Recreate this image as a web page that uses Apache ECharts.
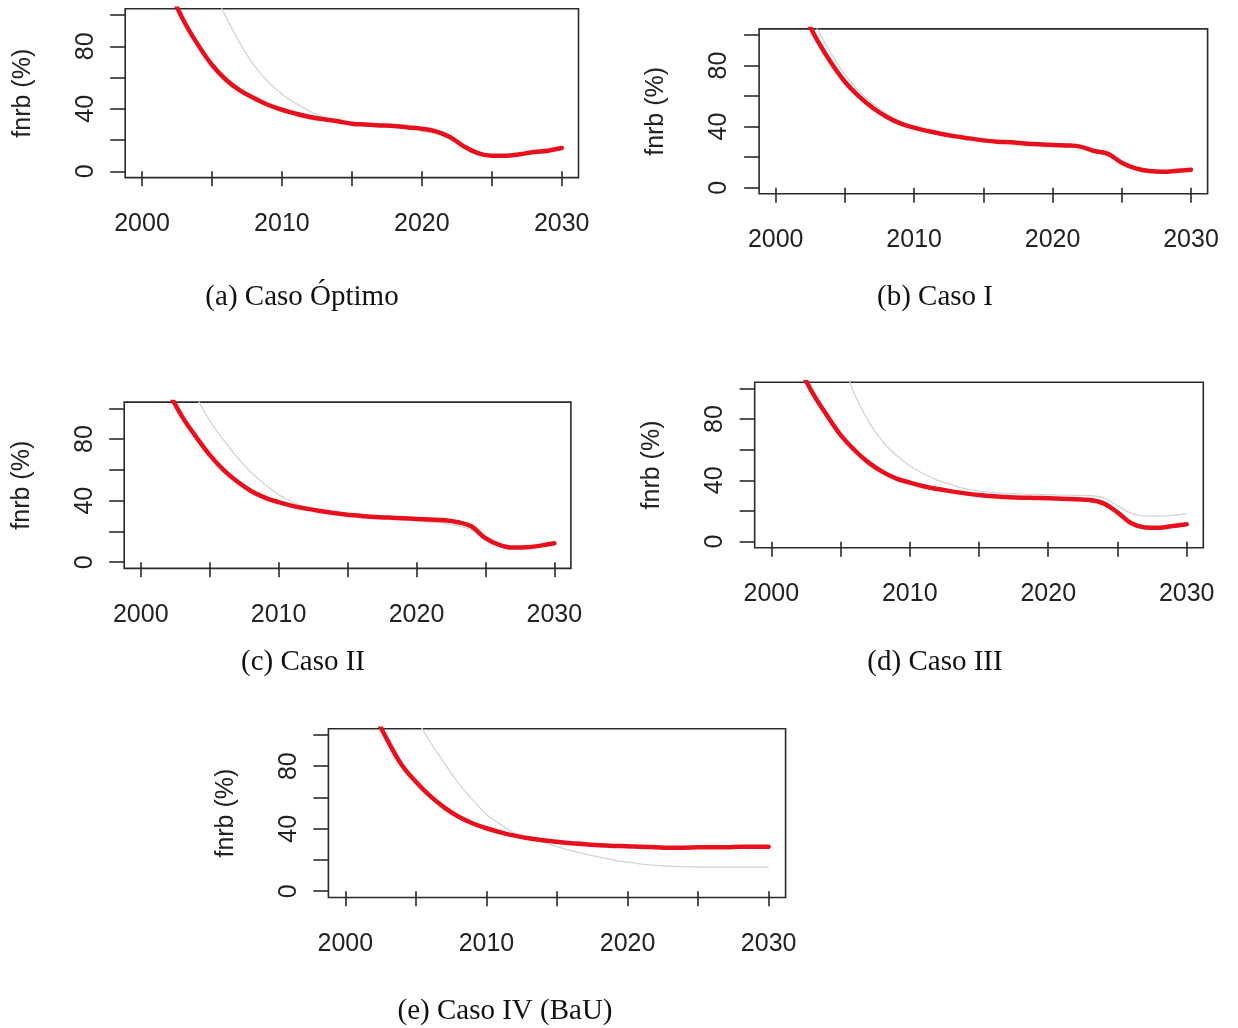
<!DOCTYPE html>
<html><head><meta charset="utf-8">
<script src="https://cdn.jsdelivr.net/npm/echarts@6/dist/echarts.min.js"></script>
<style>html,body{margin:0;padding:0;background:#fff}#chart{width:1238px;height:1028px}</style>
</head><body><div id="chart"></div>
<script>
// ---- data ----
const years = [2002,2003,2004,2005,2006,2007,2008,2009,2010,2011,2012,2013,2014,2015,2016,2017,2018,2019,2020,2021,2022,2023,2024,2025,2026,2027,2028,2029,2030];

const redA  = [115,96,81,68.2,58.6,51.8,46.9,42.6,39.4,36.9,34.8,33.3,32.0,30.5,29.9,29.4,29.0,28.1,27.3,25.6,22.0,16.0,11.7,10.0,10.0,10.9,12.4,13.2,14.9];
const grayA = [null,null,null,117,99,82,68,57.5,49.5,43.5,38.4,34.5,32.2,30.5,29.8,29.2,28.5,27.2,25.6,23.9,20.7,15.6,11.6,10.0,10.0,10.9,12.4,13.2,14.9];

const redB  = [114,96.7,81.9,69.4,60.0,52.4,46.5,42.1,39.3,37.1,35.2,33.6,32.3,31.0,30.1,29.7,29.0,28.4,27.9,27.7,26.9,24.0,22.1,16.4,12.7,10.9,10.5,11.1,11.8];
const grayB = [122,104,88,74,63.5,55,48.5,43.5,40,37.3,35.2,33.6,32.3,31.0,30.1,29.7,29.0,28.4,27.9,27.7,26.9,24.0,22.1,16.4,12.7,10.9,10.5,11.1,11.8];

const redC  = [111,94.6,81.6,69.7,60.0,52.4,46.3,42.0,39.0,36.6,34.8,33.3,32.0,30.9,30.1,29.4,29.0,28.6,28.1,27.7,27.3,26.0,23.2,15.6,11.3,9.5,9.7,10.8,12.3];
const grayC = [null,null,108,92,79.5,68,58.5,50.5,44,39,35.5,33.3,32.0,30.9,30.0,29.2,28.5,27.7,26.9,26.0,25.3,23.6,20.9,15.0,11.3,9.5,9.7,10.8,12.3];

const redD  = [114,96.7,82.6,69.6,59.8,51.7,45.7,41.3,38.5,36.1,34.3,32.8,31.5,30.4,29.6,29.1,28.7,28.5,28.3,28.0,27.6,27.2,25.0,19.1,12.0,9.3,9.1,10.2,11.3];
const grayD = [null,null,null,121,96.5,78.8,65.8,56.5,49.5,44.3,40.1,37.2,34.6,33.0,32.0,31.5,31.0,30.8,30.6,30.4,30.2,30.0,28.6,23.5,18.5,16.7,16.7,17.2,18.3];

const redE  = [114,96.4,80.8,70.1,61.0,53.7,47.8,43.5,40.3,37.7,35.6,33.9,32.6,31.6,30.7,30.1,29.4,29.0,28.8,28.4,28.1,27.9,27.9,28.1,28.1,28.1,28.4,28.4,28.4];
const grayE = [null,null,null,111,95.7,82.2,69.4,58.8,49.1,42.8,37.1,34.5,31.5,28.5,26.0,23.8,21.8,20.0,18.6,17.4,16.6,16.0,15.7,15.5,15.4,15.4,15.4,15.4,15.4];

const yTicks  = [0,20,40,60,80,100];
const yLabels = [0,40,80];
const xTicks  = [2000,2005,2010,2015,2020,2025,2030];
const xLabels = [2000,2010,2020,2030];
const panelTitles = ['(a) Caso Óptimo','(b) Caso I','(c) Caso II','(d) Caso III','(e) Caso IV (BaU)'];
const yName = 'fnrb (%)';

// ---- layout ----
const boxes = [
  {left:125.2, top:8.8,   width:453.3, height:168.8},
  {left:759.1, top:28.9,  width:448.5, height:164.9},
  {left:124.2, top:402.1, width:446.7, height:166.3},
  {left:754.7, top:382.2, width:448.6, height:165.6},
  {left:328.4, top:728.7, width:457.2, height:168.8}
];
const titlePos = [[302,297],[935,297],[303,662],[935,662],[505,1011]];
const reds  = [redA, redB, redC, redD, redE];
const grays = [grayA, grayB, grayC, grayD, grayE];

const sans = 'Liberation Sans, Arial, sans-serif';
const serif = 'Liberation Serif, Times New Roman, serif';
const ink = '#222';

const grid = [], xAxis = [], yAxis = [], series = [], graphic = [];
boxes.forEach((b, i) => {
  grid.push({left:b.left, top:b.top, width:b.width, height:b.height, show:true,
    borderColor:'#2a2a2a', borderWidth:1.6, backgroundColor:'transparent', containLabel:false});
  xAxis.push({gridIndex:i, type:'value', min:1998.8, max:2031.2,
    axisLine:{show:false}, splitLine:{show:false},
    axisTick:{show:true, length:15, customValues:xTicks, lineStyle:{color:'#2a2a2a', width:1.6}},
    axisLabel:{show:true, customValues:xLabels, margin:34, fontSize:25, fontFamily:sans, color:ink,
      formatter:v => String(v)}});
  yAxis.push({gridIndex:i, type:'value', min:-4, max:104,
    axisLine:{show:false}, splitLine:{show:false},
    axisTick:{show:true, length:15, customValues:yTicks, lineStyle:{color:'#2a2a2a', width:1.6}},
    axisLabel:{show:true, customValues:yLabels, rotate:90, margin:27, fontSize:25, fontFamily:sans, color:ink,
      formatter:v => String(v)},
    name:yName, nameLocation:'middle', nameGap:90, nameRotate:90,
    nameTextStyle:{fontSize:25, fontFamily:sans, color:ink}});
  series.push({type:'line', xAxisIndex:i, yAxisIndex:i, showSymbol:false, clip:true, silent:true,
    smooth:0.4, z:2,
    lineStyle:{color:'#d4d4d4', width:1.3},
    data: years.map((y, k) => [y, grays[i][k]])});
  series.push({type:'line', xAxisIndex:i, yAxisIndex:i, showSymbol:false, clip:true, silent:true,
    smooth:0.4, z:3,
    lineStyle:{color:'#e8101c', width:4.5, cap:'round', join:'round'},
    data: years.map((y, k) => [y, reds[i][k]])});
  graphic.push({type:'text', x:titlePos[i][0], y:titlePos[i][1], silent:true,
    style:{text:panelTitles[i], fill:'#111', font:'29px ' + serif, textAlign:'center', verticalAlign:'middle'}});
});

const chart = echarts.init(document.getElementById('chart'), null, {renderer:'canvas'});
chart.setOption({animation:false, backgroundColor:'#fff', grid, xAxis, yAxis, series, graphic});
</script>
</body></html>
